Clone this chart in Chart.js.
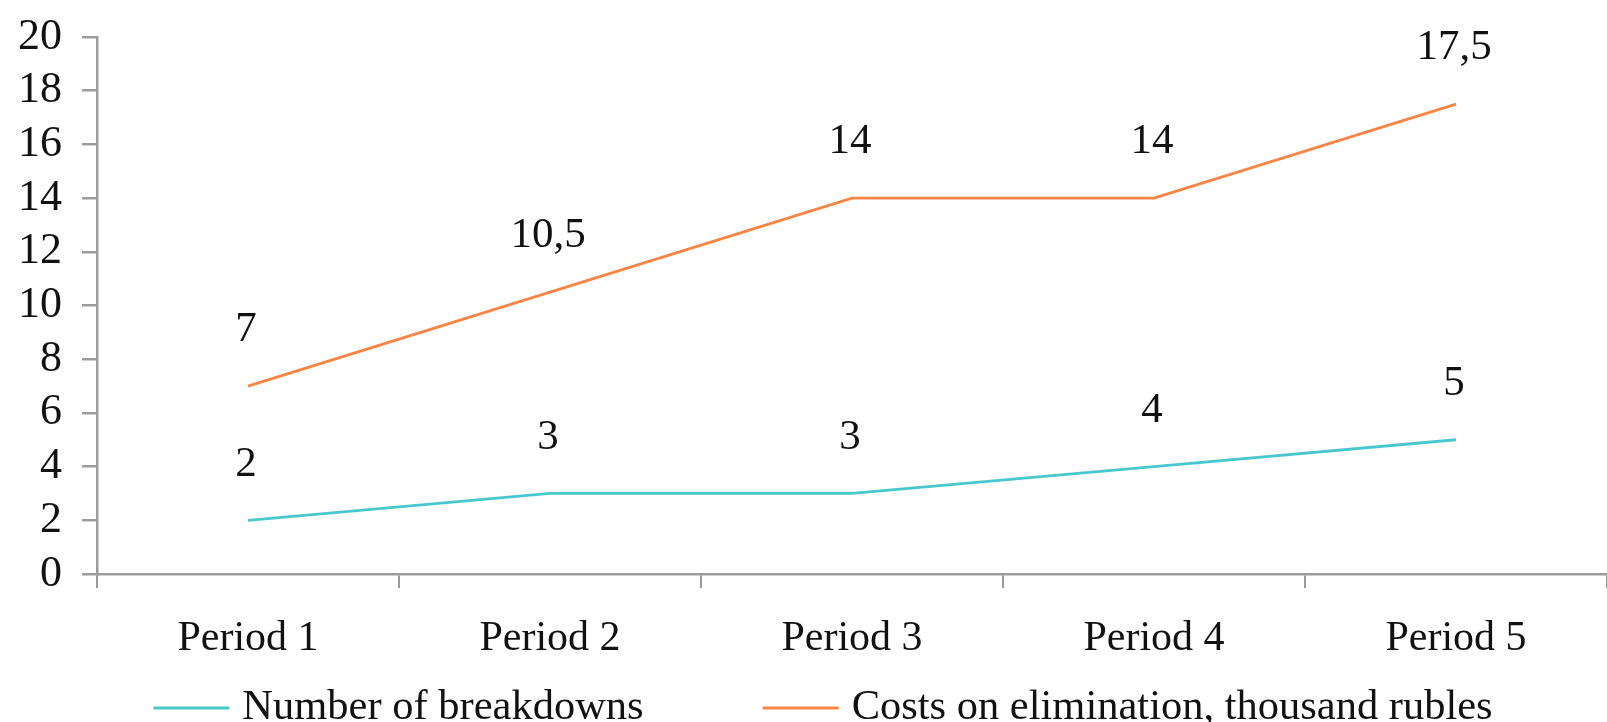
<!DOCTYPE html>
<html>
<head>
<meta charset="utf-8">
<title>Breakdowns and elimination costs by period</title>
<script src="https://cdn.jsdelivr.net/npm/chart.js@4/dist/chart.umd.min.js"></script>
<style>
  html, body { margin: 0; padding: 0; background: #ffffff; }
  #chart { display: block; }
</style>
</head>
<body>
<canvas id="chart" width="1607" height="722"></canvas>
<script>
// Periods on the x axis
const periods = ['Period 1', 'Period 2', 'Period 3', 'Period 4', 'Period 5'];

// Series values
const breakdowns = [2, 3, 3, 4, 5];
const costs = [7, 10.5, 14, 14, 17.5];

// Series names
const seriesNames = ['Number of breakdowns', 'Costs on elimination, thousand rubles'];

// Y axis range and step
const yMin = 0;
const yMax = 20;
const yStep = 2;

const FONT = '"Liberation Serif", "Times New Roman", serif';
const AXIS_GREY = '#9c9c9c';
const CYAN = '#48c8cc';
const ORANGE = '#fa8544';

// Value labels above each point, with a comma as decimal separator
const valueLabels = {
  id: 'valueLabels',
  afterDatasetsDraw(chart) {
    const ctx = chart.ctx;
    ctx.save();
    ctx.font = '43px ' + FONT;
    ctx.fillStyle = '#111111';
    ctx.textAlign = 'center';
    ctx.textBaseline = 'middle';
    chart.data.datasets.forEach((ds, di) => {
      const meta = chart.getDatasetMeta(di);
      meta.data.forEach((pt, i) => {
        const text = String(ds.data[i]).replace('.', ',');
        ctx.fillText(text, pt.x - 2, pt.y - 56);
      });
    });
    ctx.restore();
  }
};

// Legend row under the axis: short line sample followed by the series name
const lineLegend = {
  id: 'lineLegend',
  afterDraw(chart) {
    const ctx = chart.ctx;
    const sample = 76, gapText = 13, gapItem = 119;
    const cy = 708, cx = 823;
    ctx.save();
    ctx.font = '42.5px ' + FONT;
    ctx.textBaseline = 'middle';
    ctx.textAlign = 'left';
    const items = chart.data.datasets.map(ds => ({
      text: ds.label, color: ds.borderColor, w: ctx.measureText(ds.label).width
    }));
    let total = 0;
    items.forEach((it, i) => { total += sample + gapText + it.w + (i ? gapItem : 0); });
    let x = cx - total / 2;
    items.forEach((it, i) => {
      if (i) x += gapItem;
      ctx.strokeStyle = it.color;
      ctx.lineWidth = 3;
      ctx.beginPath();
      ctx.moveTo(x, cy);
      ctx.lineTo(x + sample, cy);
      ctx.stroke();
      x += sample + gapText;
      ctx.fillStyle = '#111111';
      ctx.fillText(it.text, x, cy);
      x += it.w;
    });
    ctx.restore();
  }
};

new Chart(document.getElementById('chart'), {
  type: 'line',
  data: {
    labels: periods,
    datasets: [
      {
        label: seriesNames[0],
        data: breakdowns,
        borderColor: CYAN,
        backgroundColor: CYAN,
        borderWidth: 2.8,
        pointRadius: 0,
        tension: 0
      },
      {
        label: seriesNames[1],
        data: costs,
        borderColor: ORANGE,
        backgroundColor: ORANGE,
        borderWidth: 2.8,
        pointRadius: 0,
        tension: 0
      }
    ]
  },
  options: {
    responsive: false,
    animation: false,
    events: [],
    layout: { padding: { top: 37, right: 0, bottom: 60, left: 0 } },
    plugins: {
      legend: { display: false },
      tooltip: { enabled: false },
      title: { display: false }
    },
    scales: {
      x: {
        offset: true,
        afterFit(scale) {
          scale.height = 88;
          scale.paddingLeft = 0;
          scale.paddingRight = 0;
        },
        border: { display: true, color: AXIS_GREY, width: 2.5 },
        grid: {
          offset: true,
          drawOnChartArea: false,
          drawTicks: true,
          tickLength: 14,
          color: AXIS_GREY,
          lineWidth: 2
        },
        ticks: {
          color: '#111111',
          font: { family: FONT, size: 42 },
          padding: 26,
          maxRotation: 0,
          autoSkip: false
        }
      },
      y: {
        min: yMin,
        max: yMax,
        afterFit(scale) {
          scale.width = 97;
          scale.paddingTop = 0;
          scale.paddingBottom = 0;
        },
        border: { display: true, color: AXIS_GREY, width: 2.5 },
        grid: {
          drawOnChartArea: false,
          drawTicks: true,
          tickLength: 15,
          color: AXIS_GREY,
          lineWidth: 2.5
        },
        ticks: {
          stepSize: yStep,
          autoSkip: false,
          color: '#111111',
          font: { family: FONT, size: 44 },
          padding: 20
        }
      }
    }
  },
  plugins: [valueLabels, lineLegend]
});
</script>
</body>
</html>
